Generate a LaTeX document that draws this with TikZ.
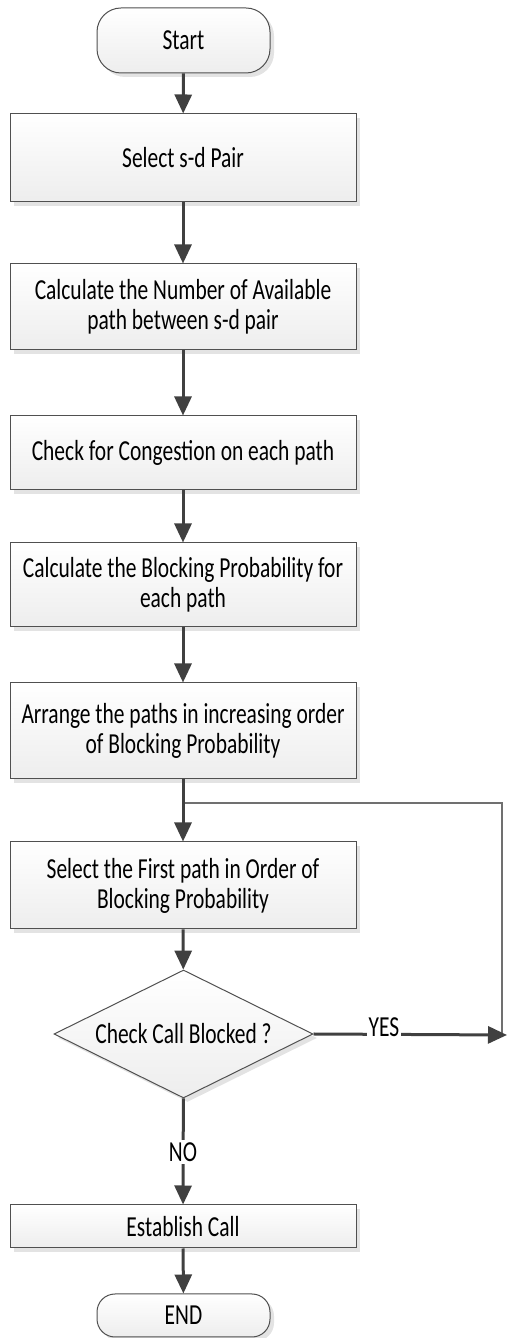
\documentclass[tikz,border=0pt]{standalone}
\usepackage{fontspec}
\newfontfamily\cfont[FakeStretch=0.74]{Carlito}
\usetikzlibrary{shapes.geometric,arrows.meta,shadows}
\definecolor{boxline}{HTML}{505050}
\definecolor{arrowc}{HTML}{404040}
\definecolor{thinc}{HTML}{707070}
\begin{document}
\begin{tikzpicture}[x=1pt,y=1pt,
  txt/.style={font=\cfont\fontsize{29}{30}\selectfont},
  shade/.style={draw=boxline, line width=1pt, top color=white, bottom color=gray!14,
    drop shadow={shadow xshift=4pt,shadow yshift=-4pt,fill=gray!22,opacity=1}},
  box/.style={shade, txt, minimum width=346pt, align=center, inner sep=0pt},
  term/.style={shade, txt, minimum width=173pt, rounded corners=24pt, inner sep=0pt},
  dec/.style={shade, txt, diamond, minimum width=259pt, minimum height=128pt, inner sep=0pt, aspect=2},
  flow/.style={draw=arrowc, line width=3pt, -{Triangle[length=19pt,width=17pt]}},
  thin/.style={draw=thinc, line width=1.2pt},
  lab/.style={txt, fill=white, inner sep=2pt}]
\useasboundingbox (0,0) rectangle (508,1338);
\node[term, minimum height=65pt] (start) at (183.5,1297.5) {Start};
\node[box, minimum height=88pt] (b1) at (183,1180) {Select s-d Pair};
\node[box, minimum height=86pt] (b2) at (183,1031) {Calculate the Number of Available\\path between s-d pair};
\node[box, minimum height=74pt] (b3) at (183,885) {Check for Congestion on each path};
\node[box, minimum height=84pt] (b4) at (183,753) {Calculate the Blocking Probability for\\each path};
\node[box, minimum height=96pt] (b5) at (183,607) {Arrange the paths in increasing order\\of Blocking Probability};
\node[box, minimum height=87pt] (b6) at (183,452.5) {Select the First path in Order of\\Blocking Probability};
\node[dec] (dia) at (183.5,304) {Check Call Blocked ?};
\node[box, minimum height=43pt] (b7) at (183,111.5) {Establish Call};
\node[term, minimum height=43pt, rounded corners=18pt] (end) at (183.5,22.5) {END};
\coordinate (join) at (183,535);
\coordinate (fbtop) at (502,535);
\coordinate (fbbot) at (502,302);
\coordinate (yesend) at (507,303);
\draw[thin] (join) -- (fbtop) -- (fbbot);
\draw[flow] (start) -- (b1);
\draw[flow] (b1) -- (b2);
\draw[flow] (b2) -- (b3);
\draw[flow] (b3) -- (b4);
\draw[flow] (b4) -- (b5);
\draw[flow] (b5) -- (b6);
\draw[flow] (b6) -- (dia);
\draw[flow] (dia.east) -- (yesend);
\draw[flow] (dia) -- (b7);
\draw[flow] (b7) -- (end);
\node[lab, anchor=base] (yes) at (384,301) {YES};
\node[lab] (no) at (183,186) {NO};
\end{tikzpicture}
\end{document}
